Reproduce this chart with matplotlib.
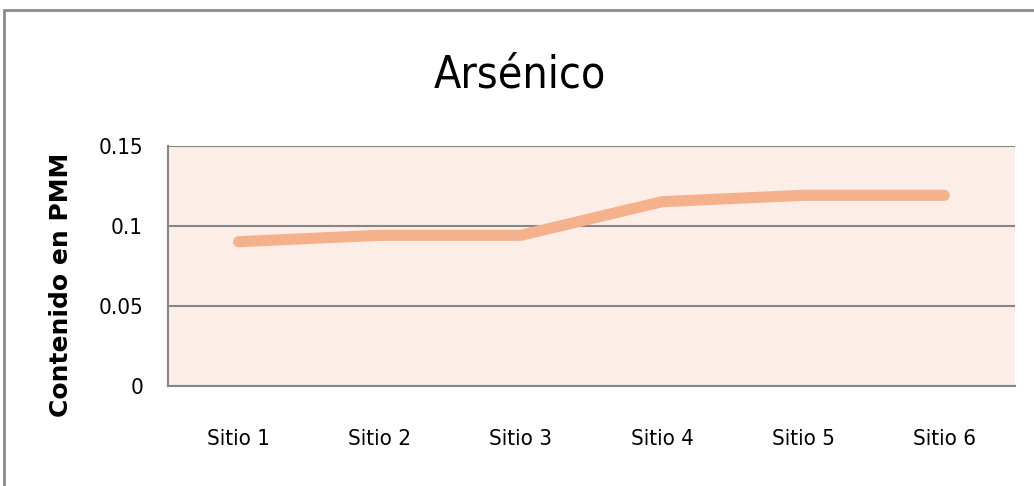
import matplotlib.pyplot as plt
from matplotlib.patches import Rectangle

# data
sites = ["Sitio 1", "Sitio 2", "Sitio 3", "Sitio 4", "Sitio 5", "Sitio 6"]
arsenic = [0.090, 0.094, 0.094, 0.115, 0.119, 0.119]
y_ticks = [0, 0.05, 0.1, 0.15]
y_tick_labels = ["0", "0.05", "0.1", "0.15"]

plt.rcParams["font.family"] = ["DejaVu Sans"]
plt.rcParams["font.stretch"] = "condensed"

fig = plt.figure(figsize=(10.34, 4.86), dpi=100)
ax = fig.add_axes([0.1625, 0.2064, 0.819, 0.4938])

# outer chart border
fig.patches.append(Rectangle((4 / 1034, -0.1), 1.2, 1 - 10 / 486 + 0.1,
                             transform=fig.transFigure, fill=False,
                             edgecolor="#8a8a8a", linewidth=2))

ax.set_facecolor("#fcede7")
x = range(len(sites))
ax.plot(x, arsenic, color="#f5b18b", linewidth=8, solid_capstyle="round",
        solid_joinstyle="round", zorder=3)

ax.set_xlim(-0.5, len(sites) - 0.5)
ax.set_ylim(0, 0.15)
ax.set_yticks(y_ticks)
ax.set_yticklabels(y_tick_labels)
ax.set_xticks(list(x))
ax.set_xticklabels(sites)
ax.tick_params(axis="both", length=0, labelsize=16, colors="#000000")
ax.tick_params(axis="y", pad=18)
ax.tick_params(axis="x", pad=31)

ax.grid(axis="y", color="#868686", linewidth=1.5, zorder=1)
ax.set_axisbelow(True)
for side in ["top", "right"]:
    ax.spines[side].set_visible(False)
for side in ["left", "bottom"]:
    ax.spines[side].set_color("#868686")
    ax.spines[side].set_linewidth(1.5)

ax.set_ylabel("Contenido en PMM", fontsize=18, fontweight="bold",
              fontstretch="normal", labelpad=18, y=0.42)
fig.text(0.503, 0.845, "Arsénico", ha="center", va="center", fontsize=32,
         fontweight="medium")

fig.savefig("out.png", dpi=100)
